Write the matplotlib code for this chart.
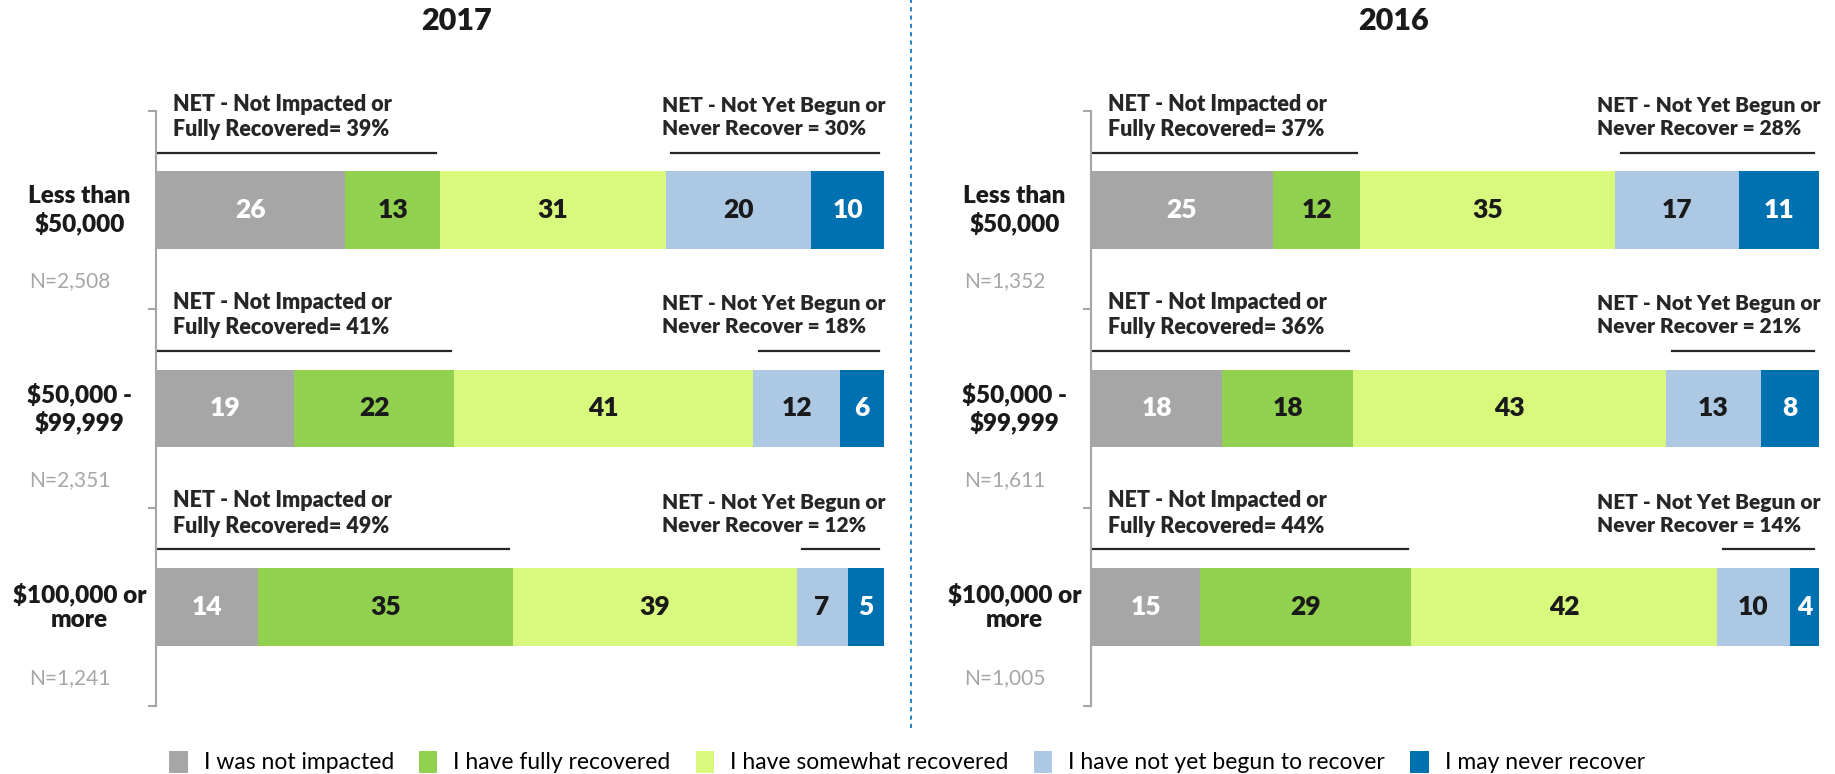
import matplotlib.pyplot as plt
from matplotlib.patches import Patch
from matplotlib.lines import Line2D
import numpy as np

plt.rcParams['font.family'] = ['Lato', 'DejaVu Sans']

# ---- data ----
categories = ["Less than\n$50,000", "$50,000 -\n$99,999", "$100,000 or\nmore"]
series = ["I was not impacted", "I have fully recovered", "I have somewhat recovered",
          "I have not yet begun to recover", "I may never recover"]
years = ["2017", "2016"]

vals_2017 = [[26, 13, 31, 20, 10],
             [19, 22, 41, 12, 6],
             [14, 35, 39, 7, 5]]
vals_2016 = [[25, 12, 35, 17, 11],
             [18, 18, 43, 13, 8],
             [15, 29, 42, 10, 4]]

n_2017 = ["N=2,508", "N=2,351", "N=1,241"]
n_2016 = ["N=1,352", "N=1,611", "N=1,005"]

net_pos_2017 = [39, 41, 49]
net_neg_2017 = [30, 18, 12]
net_pos_2016 = [37, 36, 44]
net_neg_2016 = [28, 21, 14]

colors = ["#a6a6a6", "#92d050", "#d8f97e", "#adc8e3", "#0071b0"]
txt_colors = ["white", "#1a1a1a", "#1a1a1a", "#1a1a1a", "white"]

W, H = 1835, 774
BOLD = "heavy"
fig = plt.figure(figsize=(W / 100, H / 100), dpi=100)


def px_axes(x0, x1, y0, y1):
    return fig.add_axes([x0 / W, 1 - y1 / H, (x1 - x0) / W, (y1 - y0) / H])


def draw_panel(ax, vals, ns, net_pos, net_neg):
    vals = np.array(vals)
    y = np.arange(len(categories))
    left = np.zeros(len(categories))
    for j in range(vals.shape[1]):
        bars = ax.barh(y, vals[:, j], left=left, height=0.39, color=colors[j],
                       edgecolor="none")
        ax.bar_label(bars, label_type="center", color=txt_colors[j],
                     fontsize=19, fontweight=BOLD)
        left += vals[:, j]

    ax.set_xlim(0, 100)
    ax.set_ylim(2.5, -0.5)
    for s in ["top", "right", "bottom"]:
        ax.spines[s].set_visible(False)
    ax.spines["left"].set_color("#a6a6a6")
    ax.spines["left"].set_linewidth(1.5)
    ax.set_xticks([])
    ax.set_yticks([-0.5, 0.5, 1.5, 2.5])
    ax.set_yticklabels([])
    ax.tick_params(axis="y", length=6, width=1.5, color="#a6a6a6")

    for i in range(len(categories)):
        ax.text(-10.5, i, categories[i], ha="center", va="center",
                fontsize=17.5, fontweight=BOLD, color="#1a1a1a", linespacing=1.2)
        ax.text(-11.8, i + 0.36, ns[i], ha="center", va="center",
                fontsize=15, color="#a6a6a6")
        ax.text(2.4, i - 0.47,
                "NET - Not Impacted or\nFully Recovered= %d%%" % net_pos[i],
                ha="left", va="center", fontsize=15.5, fontweight=BOLD,
                color="#262626", linespacing=1.25)
        ax.text(69.5, i - 0.47,
                "NET - Not Yet Begun or\nNever Recover = %d%%" % net_neg[i],
                ha="left", va="center", fontsize=15, fontweight=BOLD,
                color="#262626", linespacing=1.25, clip_on=False)
        ax.plot([0.2, net_pos[i] - 0.5], [i - 0.29, i - 0.29], color="#262626",
                lw=1.6, clip_on=False)
        ax.plot([100 - net_neg[i] + 0.8, 99.3], [i - 0.29, i - 0.29],
                color="#262626", lw=1.6, clip_on=False)


ax1 = px_axes(156, 884, 111, 706)
ax2 = px_axes(1091, 1819, 111, 706)
draw_panel(ax1, vals_2017, n_2017, net_pos_2017, net_neg_2017)
draw_panel(ax2, vals_2016, n_2016, net_pos_2016, net_neg_2016)

fig.text(456 / W, 1 - 21 / H, years[0], ha="center", va="center",
         fontsize=22, fontweight=BOLD, color="#1a1a1a")
fig.text(1393 / W, 1 - 21 / H, years[1], ha="center", va="center",
         fontsize=22, fontweight=BOLD, color="#1a1a1a")

fig.add_artist(Line2D([911 / W, 911 / W], [1 - 728 / H, 1.0], color="#0070c0",
                      lw=1.2, linestyle=(0, (2.5, 2.5))))

handles = [Patch(facecolor=c, edgecolor="none") for c in colors]
fig.legend(handles, series, loc="center", bbox_to_anchor=(907 / W, 1 - 762 / H),
           ncol=5, frameon=False, fontsize=16.5, handlelength=0.8, handleheight=1.1,
           handletextpad=0.7, columnspacing=1.1)

fig.savefig("out.png", dpi=100)
